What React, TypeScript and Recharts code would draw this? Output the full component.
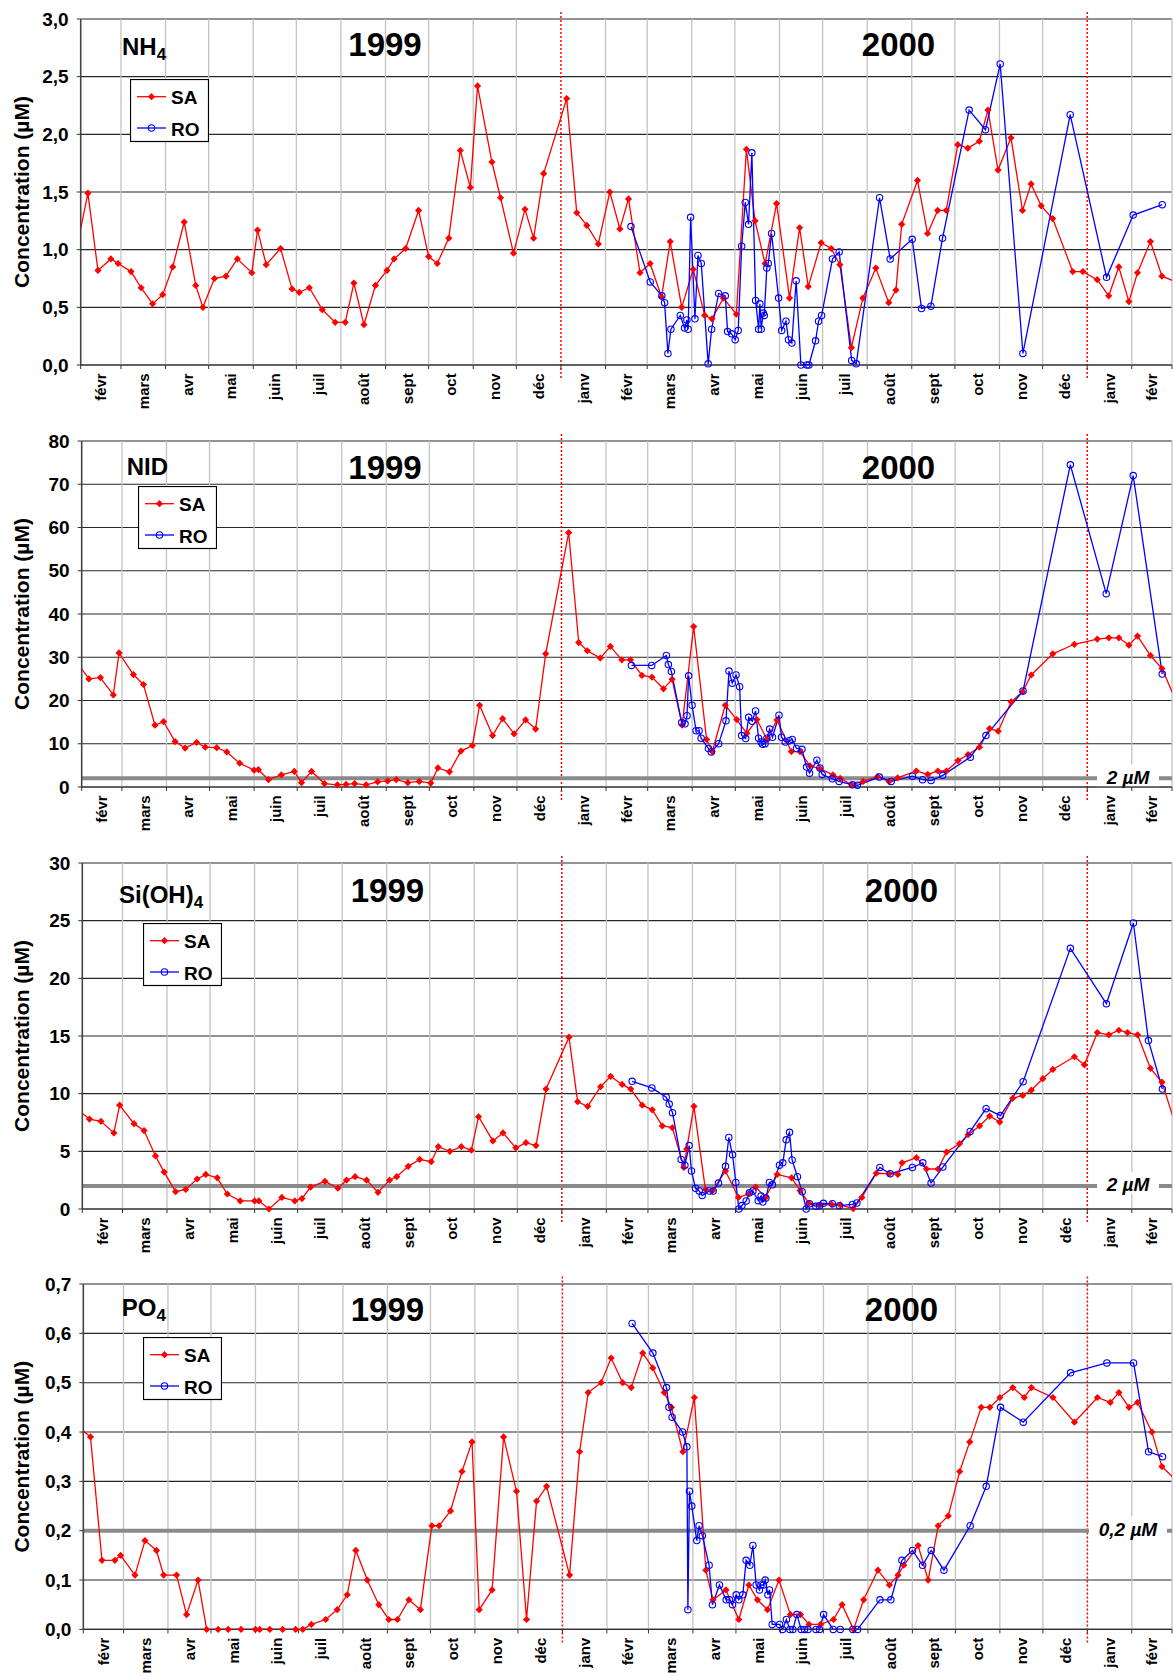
import React from "react";
import { LineChart, Line, XAxis, YAxis, CartesianGrid, ReferenceLine, Legend } from "recharts";

const FONT = '"Liberation Sans", Arial, Helvetica, sans-serif';

// x values are days since 1 Feb 1999 (first month on the axis)
const monthLabels = [
  "févr", "mars", "avr", "mai", "juin", "juil", "août", "sept", "oct", "nov", "déc",
  "janv", "févr", "mars", "avr", "mai", "juin", "juil", "août", "sept", "oct", "nov", "déc",
  "janv", "févr",
];
const DAY = 86400000;
const T0 = Date.UTC(1999, 1, 1);
const monthStarts = monthLabels.concat([""]).map((_, i) => (Date.UTC(1999, 1 + i, 1) - T0) / DAY);
const X_END = monthStarts[monthStarts.length - 1];
const yearStarts = [(Date.UTC(2000, 0, 1) - T0) / DAY, (Date.UTC(2001, 0, 1) - T0) / DAY];
const seriesOrder = ["SA", "RO"];

const nh4Ticks = [0, 0.5, 1, 1.5, 2, 2.5, 3];
const nidTicks = [0, 10, 20, 30, 40, 50, 60, 70, 80];
const siTicks = [0, 5, 10, 15, 20, 25, 30];
const po4Ticks = [0, 0.1, 0.2, 0.3, 0.4, 0.5, 0.6, 0.7];

const nh4SA = [
  [-7, 0.75], [5, 1.49], [12, 0.82], [21, 0.92], [26, 0.88], [35, 0.81], [42, 0.67], [50, 0.53], [57, 0.61],
  [64, 0.85], [72, 1.24], [80, 0.69], [85, 0.5], [93, 0.75], [101, 0.77], [109, 0.92], [119, 0.8], [123, 1.17],
  [129, 0.87], [139, 1.01], [147, 0.66], [152, 0.63], [159, 0.67], [168, 0.48], [177, 0.37], [184, 0.37],
  [190, 0.71], [197, 0.35], [205, 0.69], [213, 0.82], [218, 0.92], [226, 1.01], [235, 1.34], [242, 0.94],
  [248, 0.88], [256, 1.1], [264, 1.86], [271, 1.54], [276, 2.42], [286, 1.76], [292, 1.45], [301, 0.97],
  [309, 1.35], [315, 1.1], [322, 1.66], [338, 2.31], [345, 1.32], [352, 1.21], [360, 1.05], [368, 1.5],
  [375, 1.18], [381, 1.44], [389, 0.8], [396, 0.88], [404, 0.59], [410, 1.07], [418, 0.5], [426, 0.83],
  [434, 0.43], [439, 0.4], [447, 0.58], [456, 0.44], [463, 1.87], [469, 1.25], [476, 0.88], [484, 1.4],
  [493, 0.58], [500, 1.19], [506, 0.68], [515, 1.06], [522, 1.01], [528, 0.87], [536, 0.15], [544, 0.58],
  [553, 0.84], [562, 0.54], [567, 0.65], [571, 1.22], [582, 1.6], [589, 1.14], [596, 1.34], [602, 1.34],
  [610, 1.91], [617, 1.88], [625, 1.94], [631, 2.21], [638, 1.69], [647, 1.97], [655, 1.34], [661, 1.57],
  [668, 1.38], [676, 1.27], [690, 0.81], [697, 0.81], [707, 0.74], [715, 0.6], [722, 0.85], [729, 0.55],
  [735, 0.8], [744, 1.07], [752, 0.77], [766, 0.7],
];
const nh4RO = [
  [382.7, 1.2], [396.1, 0.72], [404.2, 0.6], [406.1, 0.54], [408.4, 0.1], [410.5, 0.31], [417, 0.43], [420, 0.32],
  [421.6, 0.39], [422.5, 0.31], [424.2, 1.28], [427.2, 0.4], [429.3, 0.95], [431.6, 0.88], [436.4, 0.01],
  [438.8, 0.31], [443.7, 0.62], [448.3, 0.6], [449.9, 0.29], [452.7, 0.27], [455.2, 0.22], [457.3, 0.3],
  [459.7, 1.03], [462.2, 1.41], [464.5, 1.22], [466.8, 1.84], [469.4, 0.56], [471.5, 0.31], [472.4, 0.53],
  [473.3, 0.31], [474.7, 0.45], [475.4, 0.43], [477.2, 0.84], [478.2, 0.88], [480.5, 1.14], [485.4, 0.58],
  [487.5, 0.3], [490.5, 0.38], [492.3, 0.22], [494.6, 0.19], [497.6, 0.73], [500.9, 0], [505.1, 0], [506.5, 0],
  [511.1, 0.21], [513.2, 0.38], [515.3, 0.43], [522.9, 0.92], [527.5, 0.98], [536.2, 0.04], [539.4, 0.01],
  [555.6, 1.45], [563, 0.92], [578.3, 1.09], [584.8, 0.49], [591.3, 0.51], [599.4, 1.1], [617.9, 2.21],
  [629.3, 2.04], [639.5, 2.61], [655.3, 0.1], [688.2, 2.17], [713.5, 0.76], [732, 1.3], [752.2, 1.39],
];

const nidSA = [
  [-7, 30.5], [5, 25.0], [13, 25.3], [22, 21.3], [26, 31.0], [36, 26.0], [43, 23.7], [51, 14.3], [57, 15.1],
  [65, 10.5], [72, 9.0], [80, 10.3], [86, 9.2], [94, 9.1], [101, 8.1], [110, 5.5], [120, 3.9], [123, 4.0],
  [130, 1.7], [139, 2.8], [148, 3.6], [153, 1.0], [160, 3.6], [169, 0.8], [178, 0.5], [184, 0.6], [190, 0.8],
  [198, 0.5], [206, 1.2], [213, 1.4], [219, 1.7], [227, 1.0], [235, 1.3], [243, 0.9], [248, 4.4], [256, 3.5],
  [264, 8.3], [272, 9.6], [277, 18.9], [286, 11.9], [293, 15.8], [301, 12.3], [309, 15.5], [316, 13.4],
  [323, 30.8], [339, 58.8], [346, 33.4], [352, 31.5], [361, 29.8], [368, 32.5], [376, 29.4], [382, 29.4],
  [390, 25.8], [397, 25.4], [405, 22.7], [411, 24.9], [418, 14.3], [426, 37.1], [435, 11.0], [439, 8.2],
  [448, 18.9], [456, 15.6], [463, 12.4], [470, 15.6], [477, 11.0], [484, 15.5], [494, 8.2], [500, 8.2],
  [507, 4.9], [514, 4.2], [523, 2.8], [528, 2.0], [536, 0.5], [544, 1.3], [554, 2.4], [562, 1.3], [568, 2.1],
  [581, 3.7], [589, 2.9], [596, 3.7], [602, 3.7], [610, 6.1], [617, 7.5], [625, 9.2], [632, 13.5], [638, 12.9],
  [647, 19.7], [655, 22.0], [661, 25.9], [676, 30.8], [691, 33.0], [707, 34.2], [715, 34.5], [722, 34.5],
  [729, 32.8], [735, 34.9], [744, 30.4], [752, 27.4], [766, 16.7],
];
const nidRO = [
  [382.7, 28.1], [396.8, 28.1], [407, 30.4], [408.4, 28.3], [410.5, 26.7], [417.7, 14.9], [420, 14.6],
  [421.4, 16.5], [422.5, 25.7], [424.9, 18.9], [427.7, 13.0], [429.8, 13.0], [431.2, 11.3], [436.3, 8.9],
  [438.3, 8.1], [443.4, 10.0], [448.5, 15.3], [450.6, 26.8], [452.9, 24.0], [455.5, 25.9], [458, 23.2],
  [459.4, 11.9], [462.2, 11.2], [464.3, 16.1], [466.8, 15.2], [469.1, 17.6], [471.2, 11.3], [472.9, 10.4],
  [474, 9.9], [475.7, 10.0], [477, 11.3], [478.9, 13.4], [480.9, 11.5], [485.4, 16.6], [487.2, 11.5],
  [489.8, 10.4], [492.5, 10.7], [494.6, 11.0], [497.6, 8.9], [501.4, 8.7], [504.6, 4.6], [506.7, 3.2],
  [511.8, 6.2], [513.9, 4.4], [515.5, 2.9], [522.5, 1.9], [527.3, 1.3], [536.6, 0.5], [540, 0.4], [555.3, 2.3],
  [563.5, 1.3], [578.3, 2.5], [585.3, 1.7], [591.3, 1.5], [599.4, 2.7], [618.6, 6.9], [629.5, 11.9],
  [655.3, 22.2], [688.2, 74.5], [713.2, 44.7], [732, 72.0], [752.2, 26.1],
];

const siSA = [
  [-7, 9.0], [5, 7.8], [13, 7.6], [22, 6.6], [26, 9.0], [36, 7.4], [43, 6.8], [51, 4.6], [57, 3.2], [65, 1.5],
  [72, 1.7], [80, 2.6], [86, 3.0], [94, 2.7], [101, 1.3], [110, 0.7], [120, 0.7], [123, 0.7], [130, 0],
  [139, 1.0], [148, 0.7], [153, 0.9], [159, 1.9], [169, 2.4], [178, 1.8], [184, 2.5], [190, 2.8], [198, 2.5],
  [206, 1.45], [214, 2.5], [219, 2.8], [227, 3.7], [235, 4.3], [243, 4.1], [248, 5.4], [256, 5.0], [264, 5.4],
  [271, 5.1], [276, 8.0], [286, 5.9], [293, 6.6], [302, 5.3], [309, 5.75], [316, 5.5], [323, 10.4],
  [339, 14.9], [345, 9.3], [352, 8.9], [361, 10.6], [368, 11.5], [376, 10.8], [382, 10.4], [390, 9.0],
  [397, 8.6], [404, 7.2], [411, 7.05], [419, 3.6], [421, 5.2], [426, 8.9], [434, 1.7], [439, 1.6], [448, 3.3],
  [457, 1.0], [464, 1.3], [469, 1.9], [476, 1.0], [484, 3.0], [494, 2.7], [500, 1.6], [506, 0.5], [514, 0.35],
  [522, 0.4], [528, 0.35], [537, 0.03], [543, 1.0], [553, 3.1], [562, 3.06], [568, 3.0], [571, 4.0],
  [581, 4.45], [588, 3.47], [596, 3.47], [602, 4.94], [611, 5.66], [617, 6.44], [625, 7.2], [632, 8.06],
  [639, 7.54], [648, 9.6], [655, 9.85], [661, 10.3], [669, 11.3], [676, 12.1], [691, 13.2], [698, 12.5],
  [707, 15.3], [715, 15.1], [722, 15.5], [728, 15.3], [735, 15.1], [744, 12.2], [752, 11.0], [766, 5.5],
];
const siRO = [
  [383, 11.07], [396.7, 10.5], [406.7, 9.7], [408.8, 9.1], [411.1, 8.35], [417.1, 4.3], [419.7, 3.8],
  [422.7, 5.5], [424.3, 3.3], [427.1, 1.8], [429.7, 1.56], [431.8, 1.16], [436.6, 1.56], [439.4, 1.56],
  [443.1, 2.25], [448, 3.7], [450.3, 6.2], [452.9, 4.7], [455.2, 2.3], [457.3, 0], [459.4, 0.3], [462.4, 0.7],
  [464.7, 1.4], [467.1, 1.56], [470.8, 0.72], [472.8, 1.13], [474, 0.6], [476.1, 0.95], [478.6, 2.3],
  [480.7, 2.1], [485.6, 3.8], [487.9, 4.0], [490.3, 6.0], [492.6, 6.65], [494.4, 4.25], [498.1, 2.8],
  [501.4, 1.5], [504.2, 0], [506.5, 0.46], [510.9, 0.23], [513.5, 0.29], [516.2, 0.49], [522.5, 0.46],
  [527.4, 0.29], [536.4, 0.4], [539.5, 0.52], [555.5, 3.6], [562.7, 3.06], [578.2, 3.6], [585.4, 4.0],
  [591.2, 2.25], [599.4, 3.64], [618.4, 6.73], [629.5, 8.7], [639.5, 8.1], [655.3, 11.04], [688.2, 22.6],
  [713.3, 17.8], [732.1, 24.8], [742.6, 14.6], [752.3, 10.4],
];

const po4SA = [
  [-7, 0.42], [5, 0.39], [13, 0.14], [22, 0.14], [26, 0.15], [36, 0.11], [43, 0.18], [51, 0.16], [56, 0.11],
  [65, 0.11], [72, 0.03], [80, 0.1], [86, 0], [94, 0], [101, 0], [110, 0], [120, 0], [123, 0], [130, 0],
  [139, 0], [148, 0], [153, 0], [159, 0.01], [169, 0.02], [177, 0.04], [184, 0.07], [190, 0.16], [198, 0.1],
  [206, 0.05], [213, 0.02], [219, 0.02], [227, 0.06], [235, 0.04], [243, 0.21], [248, 0.21], [256, 0.24],
  [264, 0.32], [271, 0.38], [276, 0.04], [285, 0.08], [293, 0.39], [302, 0.28], [309, 0.02], [316, 0.26],
  [323, 0.29], [339, 0.11], [346, 0.36], [352, 0.48], [361, 0.5], [368, 0.55], [376, 0.5], [382, 0.49],
  [390, 0.56], [397, 0.53], [405, 0.48], [410, 0.45], [418, 0.36], [426, 0.47], [434, 0.12], [439, 0.06],
  [448, 0.08], [457, 0.02], [464, 0.09], [470, 0.06], [477, 0.04], [485, 0.1], [493, 0.03], [500, 0.03],
  [506, 0.01], [514, 0.01], [523, 0.02], [529, 0.05], [537, 0], [544, 0.06], [554, 0.12], [562, 0.09],
  [568, 0.11], [572, 0.13], [582, 0.17], [589, 0.1], [596, 0.21], [603, 0.23], [611, 0.32], [618, 0.38],
  [626, 0.45], [632, 0.45], [639, 0.47], [648, 0.49], [656, 0.47], [661, 0.49], [676, 0.47], [691, 0.42],
  [707, 0.47], [716, 0.46], [722, 0.48], [729, 0.45], [735, 0.46], [745, 0.4], [752, 0.33], [766, 0.29],
];
const po4RO = [
  [382.6, 0.62], [397.1, 0.56], [406.6, 0.49], [408.3, 0.45], [410.5, 0.43], [417.7, 0.4], [420.8, 0.37],
  [421.5, 0.04], [422.6, 0.28], [424.2, 0.25], [427.7, 0.18], [429.3, 0.21], [431.6, 0.19], [436.3, 0.13],
  [438.6, 0.05], [443.5, 0.09], [448.2, 0.06], [450.5, 0.06], [452.6, 0.05], [455.2, 0.07], [457, 0.06],
  [459.8, 0.07], [462.1, 0.14], [464.7, 0.13], [466.8, 0.17], [469.1, 0.09], [471.4, 0.08], [472.4, 0.09],
  [474.2, 0.09], [475.4, 0.1], [477.3, 0.07], [478.4, 0.08], [480.3, 0.01], [485.4, 0.01], [487.5, 0],
  [490.2, 0.02], [492.6, 0], [494.7, 0], [497.5, 0.03], [500.5, 0], [502.8, 0], [505.2, 0], [510.8, 0],
  [513.3, 0], [516.1, 0.03], [522.8, 0], [527.7, 0], [536.5, 0], [539.8, 0], [555.4, 0.06], [563, 0.06],
  [570.7, 0.14], [578.1, 0.16], [585.1, 0.13], [591.1, 0.16], [600, 0.12], [618.3, 0.21], [629.5, 0.29],
  [639.5, 0.45], [655.3, 0.42], [688.3, 0.52], [713.6, 0.54], [732.2, 0.54], [742.7, 0.36], [752.4, 0.35],
];

const toPts = (arr: number[][]) => arr.map(([d, v]) => ({ d, v }));

const W = 1174;
const M_TOP = 20;
const X_H = 56;

const panels = [
  {
    name: "NH", sub: "4", sa: nh4SA, ro: nh4RO, ticks: nh4Ticks, dec: 1, limit: null as null | number, limitText: "",
    plotTop: 19.3, plotH: 346, left: 80.7, legend: [130, 79.7], nameX: 122, nameY: 55.7, yearY: 57.4, yearX: [385, 898.5],
  },
  {
    name: "NID", sub: "", sa: nidSA, ro: nidRO, ticks: nidTicks, dec: 0, limit: 2, limitText: "2 µM", limitW: 62,
    plotTop: 440.7, plotH: 346, left: 81.7, legend: [138, 65.3], nameX: 126.7, nameY: 53.6, yearY: 58.3, yearX: [385, 898.5],
  },
  {
    name: "Si(OH)", sub: "4", sa: siSA, ro: siRO, ticks: siTicks, dec: 0, limit: 2, limitText: "2 µM", limitW: 62,
    plotTop: 862.7, plotH: 346, left: 82.3, legend: [142.7, 80.6], nameX: 119, nameY: 59.6, yearY: 59, yearX: [387.4, 901.5],
  },
  {
    name: "PO", sub: "4", sa: po4SA, ro: po4RO, ticks: po4Ticks, dec: 1, limit: 0.2, limitText: "0,2 µM", limitW: 78,
    plotTop: 1284.3, plotH: 345.4, left: 83.3, legend: [143.3, 72.4], nameX: 121.7, nameY: 52.4, yearY: 57.4, yearX: [387.4, 901.5],
  },
];

const diamondDot = (p: any) => {
  const { cx, cy, index } = p;
  if (cx == null || cy == null) return <g key={index} />;
  const r = 3.6;
  return <path key={index} d={`M${cx},${cy - r}L${cx + r},${cy}L${cx},${cy + r}L${cx - r},${cy}Z`} fill="#ff0000" />;
};

const circleDot = (p: any) => {
  const { cx, cy, index } = p;
  if (cx == null || cy == null) return <g key={index} />;
  return <circle key={index} cx={cx} cy={cy} r={3.2} fill="none" stroke="#0000ff" strokeWidth={1.1} />;
};

function MonthTick(props: any) {
  const { x, y, payload, pxPerDay } = props;
  const i = monthStarts.indexOf(payload.value);
  if (i < 0 || i >= monthLabels.length) return <g />;
  const half = ((monthStarts[i + 1] - monthStarts[i]) / 2) * pxPerDay;
  const tx = x + half + 5.5;
  const ty = y + 2.3;
  return (
    <text x={tx} y={ty} transform={`rotate(-90, ${tx}, ${ty})`} textAnchor="end" fontSize={15} fontWeight={700} fill="#000">
      {monthLabels[i]}
    </text>
  );
}

function LimitLabel(props: any) {
  const { viewBox, text, boxW } = props;
  if (!viewBox) return null;
  const cx = viewBox.x + viewBox.width - 44;
  const y = viewBox.y;
  return (
    <g>
      <rect x={cx - boxW / 2} y={y - 14} width={boxW} height={22} fill="#fff" />
      <text x={cx} y={y + 5.5} textAnchor="middle" fontSize={19} fontWeight={700} fontStyle="italic" fill="#000">
        {text}
      </text>
    </g>
  );
}

function LegendBox(props: any) {
  const items = [...(props.payload || [])].sort(
    (a: any, b: any) => seriesOrder.indexOf(a.value) - seriesOrder.indexOf(b.value)
  );
  return (
    <svg width={79} height={64} style={{ display: "block" }}>
      <rect x={0.5} y={0.5} width={78} height={62} fill="#fff" stroke="#000" strokeWidth={1.2} />
      {items.map((e: any, i: number) => {
        const cy = 17.7 + i * 31.3;
        return (
          <g key={e.value}>
            <line x1={7} x2={36} y1={cy} y2={cy} stroke={e.color} strokeWidth={1.3} />
            {e.value === "SA"
              ? diamondDot({ cx: 21.5, cy, index: "m" + i })
              : circleDot({ cx: 21.5, cy, index: "m" + i })}
            <text x={41} y={cy + 7.6} fontSize={19} fontWeight={700} fill="#000">
              {e.value}
            </text>
          </g>
        );
      })}
    </svg>
  );
}

function Panel({ cfg }: { cfg: any }) {
  const H = M_TOP + cfg.plotH + X_H;
  const plotW = W - cfg.left - 2;
  const pxPerDay = plotW / X_END;
  const yMax = cfg.ticks[cfg.ticks.length - 1];
  const fmt = (v: number) => v.toFixed(cfg.dec).replace(".", ",");
  const yHigh = yMax * (1 + 9 / cfg.plotH);
  const yLow = -yMax * (13 / cfg.plotH);
  return (
    <div style={{ position: "absolute", left: 0, top: cfg.plotTop - M_TOP, width: W, height: H }}>
      <LineChart width={W} height={H} margin={{ top: M_TOP, right: 2, bottom: 0, left: 0 }}>
        <CartesianGrid vertical={false} stroke="#262626" strokeWidth={1.1} />
        {monthStarts
          .filter((d) => d > 0 && !yearStarts.includes(d))
          .map((d) => (
            <ReferenceLine key={"g" + d} x={d} stroke="#c3c3c3" strokeWidth={1.3} ifOverflow="visible" />
          ))}
        {yearStarts.map((d) => (
          <ReferenceLine
            key={"y" + d}
            segment={[{ x: d, y: yLow }, { x: d, y: yHigh }]}
            stroke="#ff0000"
            strokeWidth={1.5}
            strokeDasharray="2 2"
            ifOverflow="visible"
          />
        ))}
        <XAxis
          type="number"
          dataKey="d"
          domain={[0, X_END]}
          allowDataOverflow
          ticks={monthStarts}
          interval={0}
          height={X_H}
          tickSize={4}
          tick={(p: any) => <MonthTick {...p} pxPerDay={pxPerDay} />}
          tickLine={{ stroke: "#333" }}
          axisLine={{ stroke: "#333", strokeWidth: 1.2 }}
        />
        <YAxis
          type="number"
          domain={[0, yMax]}
          ticks={cfg.ticks}
          interval={0}
          width={cfg.left}
          tickFormatter={fmt}
          tickSize={4}
          tickMargin={8}
          tick={{ fontSize: 19, fontWeight: 700, fill: "#000" }}
          tickLine={{ stroke: "#333" }}
          axisLine={{ stroke: "#444", strokeWidth: 1.6 }}
        />
        {cfg.limit != null && (
          <ReferenceLine
            y={cfg.limit}
            stroke="#8a8a8a"
            strokeWidth={4}
            label={<LimitLabel text={cfg.limitText} boxW={cfg.limitW} />}
          />
        )}
        <Legend
          layout="horizontal"
          verticalAlign="middle"
          align="center"
          content={<LegendBox />}
          wrapperStyle={{ left: cfg.legend[0], top: cfg.legend[1], width: 79, height: 64 }}
        />
        <Line
          data={toPts(cfg.sa)}
          dataKey="v"
          name="SA"
          type="linear"
          stroke="#ff0000"
          strokeWidth={1.3}
          dot={diamondDot}
          activeDot={false}
          isAnimationActive={false}
        />
        <Line
          data={toPts(cfg.ro)}
          dataKey="v"
          name="RO"
          type="linear"
          stroke="#0000ff"
          strokeWidth={1.3}
          dot={circleDot}
          activeDot={false}
          isAnimationActive={false}
        />
      </LineChart>
      <svg width={W} height={H} style={{ position: "absolute", left: 0, top: 0, pointerEvents: "none" }}>
        <text
          x={29}
          y={M_TOP + cfg.plotH / 2}
          transform={`rotate(-90, 29, ${M_TOP + cfg.plotH / 2})`}
          textAnchor="middle"
          fontSize={21}
          fontWeight={700}
          fill="#000"
        >
          Concentration (µM)
        </text>
        <text x={cfg.nameX} y={cfg.nameY} fontSize={24} fontWeight={700} fill="#000">
          {cfg.name}
          {cfg.sub && (
            <tspan fontSize={17} dy={5}>
              {cfg.sub}
            </tspan>
          )}
        </text>
        <text x={cfg.yearX[0]} y={cfg.yearY} textAnchor="middle" fontSize={33} fontWeight={700} fill="#000">
          1999
        </text>
        <text x={cfg.yearX[1]} y={cfg.yearY} textAnchor="middle" fontSize={33} fontWeight={700} fill="#000">
          2000
        </text>
      </svg>
    </div>
  );
}

export default function App() {
  return (
    <div
      style={{
        position: "absolute",
        left: 0,
        top: 0,
        width: W,
        height: 1676,
        background: "#fff",
        overflow: "hidden",
        fontFamily: FONT,
      }}
    >
      {panels.map((cfg) => (
        <Panel key={cfg.name} cfg={cfg} />
      ))}
    </div>
  );
}
